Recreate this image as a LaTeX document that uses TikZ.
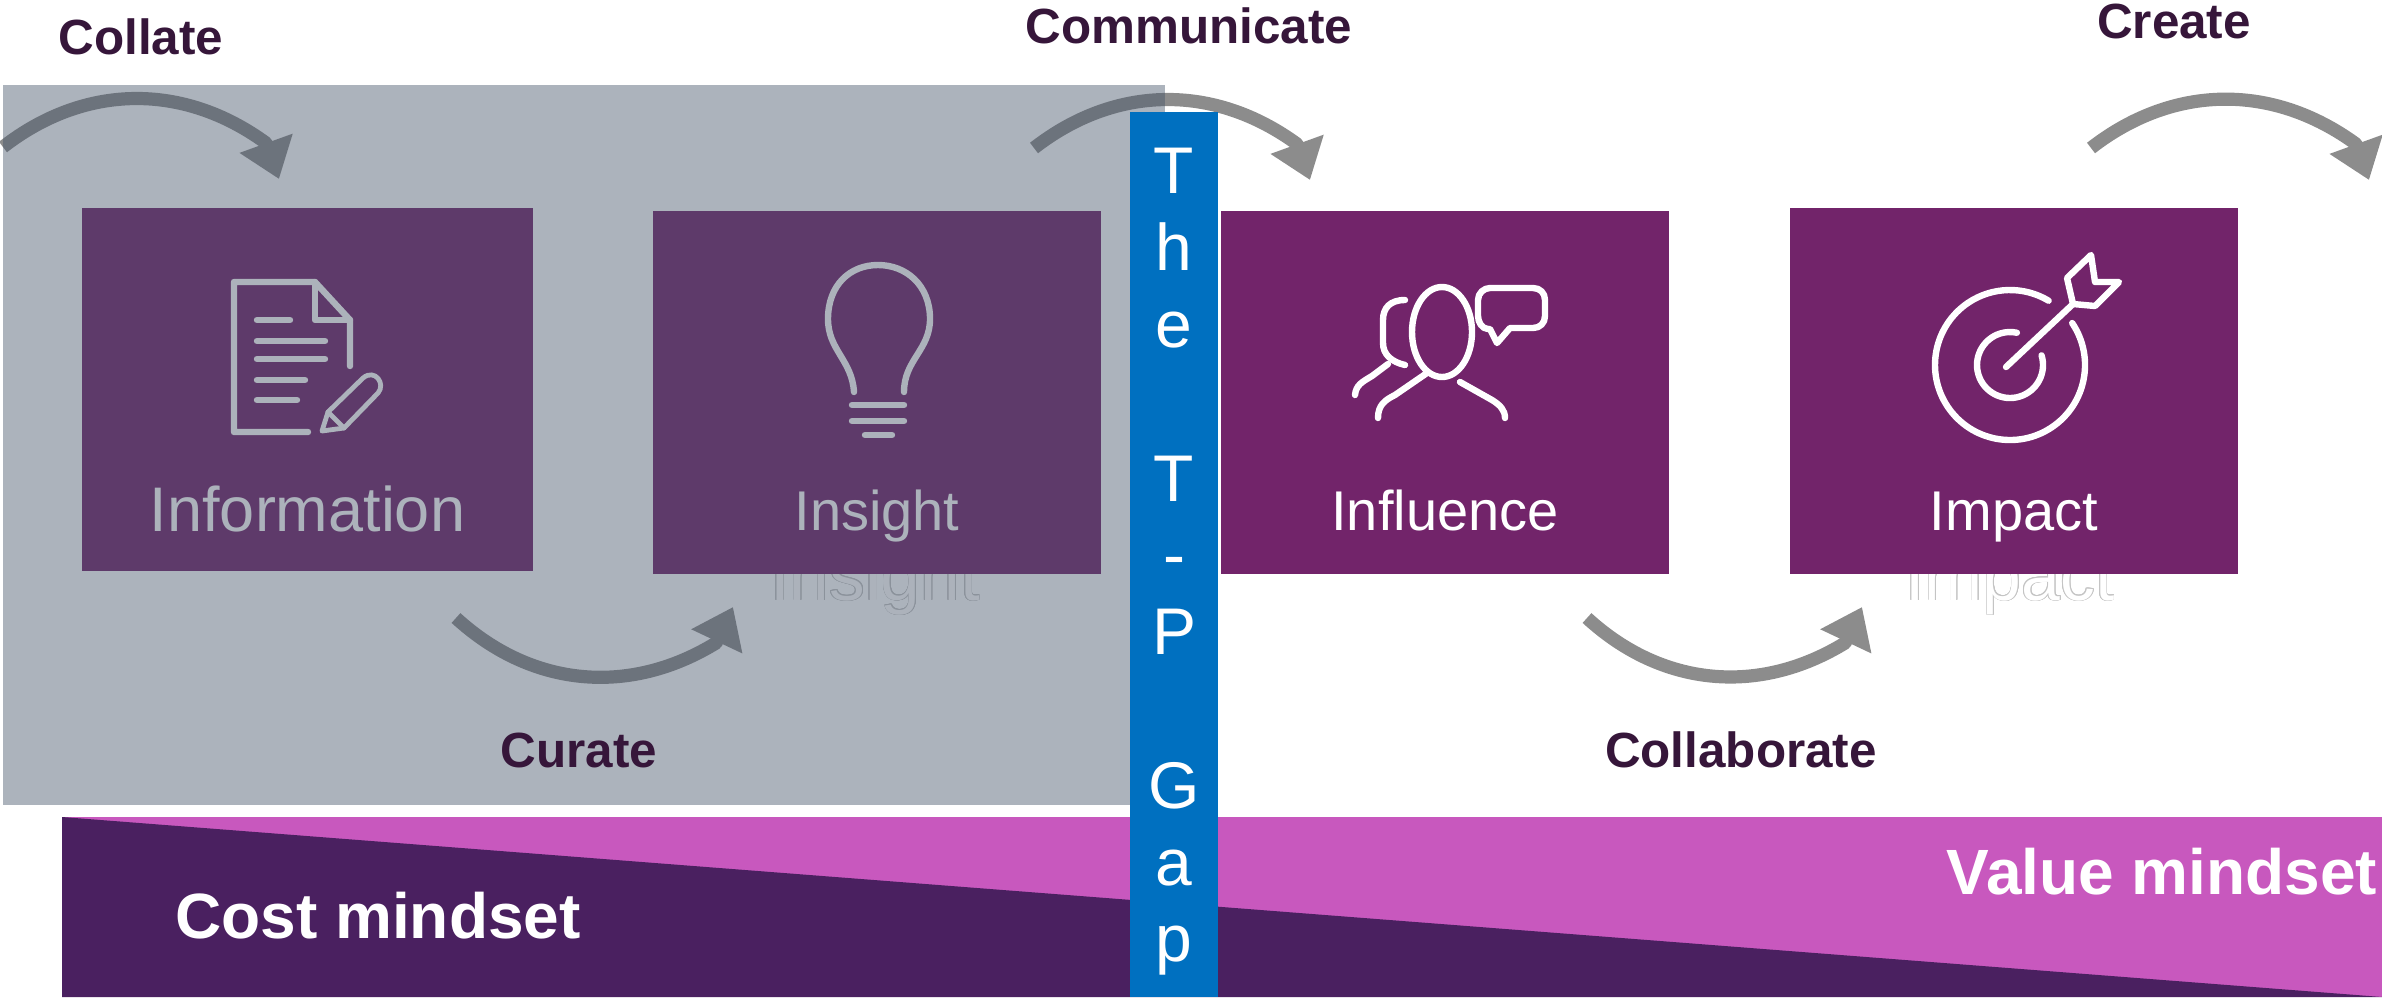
\documentclass[tikz,border=0pt]{standalone}
\usepackage{fontspec}
\setmainfont{Liberation Sans}
\usepackage{contour}
\usetikzlibrary{%
  arrows.meta,%
  positioning% wg. " of "
}
\contourlength{.4pt}
\definecolor{tileplum}{HTML}{72246A}
\definecolor{veilslate}{HTML}{47566A}
\definecolor{inkplum}{HTML}{36163A}
\definecolor{sweepgray}{HTML}{8C8C8C}
\definecolor{gapblue}{HTML}{0070C0}
\definecolor{valuepink}{HTML}{C858BE}
\definecolor{costplum}{HTML}{4A2060}
\definecolor{ghostgray}{HTML}{C4C4C4}
\tikzset{
  tile/.style={fill=tileplum,minimum width=224pt,minimum height=181.5pt,inner sep=0pt,outer sep=0pt},
  tiletext/.style={text=white,anchor=base,inner sep=0pt,font=\fontsize{28}{32}\selectfont},
  verb/.style={text=inkplum,inner sep=0pt,font=\bfseries\fontsize{24.7}{28}\selectfont},
  mindset/.style={text=white,inner sep=0pt,font=\bfseries\fontsize{32}{36}\selectfont},
  ghost/.style={anchor=base,inner sep=0pt,text=white},
  sweep/.style={->,color=sweepgray,line width=6.6pt,line join=round,>={Triangle[length=19pt,width=27pt]}},
  icon/.style={draw=white,line width=3.2pt,line cap=round,line join=round}
}

\begin{document}
\begin{tikzpicture}[x=.5pt,y=-.5pt,node distance=60pt]
    \useasboundingbox (0,0) rectangle (2382,997);

    %curved arrow ends
    \coordinate (c_1a) at (3,147);
    \coordinate (c_1m) at (266,143);
    \coordinate (c_1b) at (279,179);
    \coordinate (c_2a) at (1034,148);
    \coordinate (c_2m) at (1297,144);
    \coordinate (c_2b) at (1310,180);
    \coordinate (c_3a) at (2091,148);
    \coordinate (c_3m) at (2356,144);
    \coordinate (c_3b) at (2369,180);
    \coordinate (c_4a) at (456,618);
    \coordinate (c_4m) at (716,643);
    \coordinate (c_4b) at (733,607);
    \coordinate (c_5a) at (1587,618);
    \coordinate (c_5m) at (1845,643);
    \coordinate (c_5b) at (1862,607);

    %outlined words behind the tiles
    \node[ghost,font=\fontsize{35.6}{40}\selectfont] (g_insight) at (875,600) {\contour{ghostgray}{Insight}};
    \node[ghost,font=\fontsize{34.8}{40}\selectfont] (g_impact) at (2010,600) {\contour{ghostgray}{Impact}};

    %tiles row
    \node[tile,minimum width=225.5pt] (t_info) at (307.5,389.5) {};
    \node[tile] (t_insight) [right =of t_info,yshift=-1.5pt] {};
    \node[tile] (t_influence) [right =of t_insight] {};
    \node[tile,minimum height=183pt] (t_impact) [right =of t_influence,xshift=.5pt,yshift=.75pt] {};

    %tile words
    \node[tiletext,font=\fontsize{31.5}{36}\selectfont] (l_info) at ([yshift=20pt]t_info.south) {Information};
    \node[tiletext] (l_insight) at ([yshift=22pt]t_insight.south) {Insight};
    \node[tiletext] (l_influence) at ([yshift=22pt]t_influence.south) {Influence};
    \node[tiletext] (l_impact) at ([yshift=22pt]t_impact.south) {Impact};

    %document icon
    \draw[icon] (308,432) -- (234,432) -- (234,282) -- (315,282) -- (350,320) -- (350,366);
    \draw[icon] (315,282) -- (315,320) -- (350,320);
    \foreach \y/\xe in {320/290,341/325,359/325,380/305,400/297}
      \draw[icon] (257,\y) -- (\xe,\y);
    \draw[icon,line width=2.4pt] (322,431) -- (328,412) -- (363,378) .. controls (375,368) and (386,384) .. (378,393) -- (344,428) -- cycle;
    \draw[icon,line width=2.4pt] (328,412) -- (344,428);

    %bulb icon
    \draw[icon] (854,392) .. controls (852,360) and (828,350) .. (828,319) .. controls (828,285) and (850,265) .. (878,265) .. controls (906,265) and (930,285) .. (930,319) .. controls (930,350) and (904,360) .. (904,392);
    \draw[icon] (852,405) -- (904,405);
    \draw[icon] (852,421) -- (904,421);
    \draw[icon] (865,435) -- (892,435);

    %people icon
    \draw[icon] (1442,332) ellipse [x radius=15pt,y radius=22.5pt];
    \draw[icon] (1405,300) .. controls (1390,300) and (1383,308) .. (1383,320) -- (1383,343) .. controls (1383,355) and (1392,362) .. (1405,365);
    \draw[icon] (1355,395) .. controls (1356,385) and (1362,382) .. (1372,376) -- (1388,364);
    \draw[icon] (1378,418) .. controls (1378,405) and (1385,400) .. (1395,395) -- (1427,373);
    \draw[icon] (1460,382) -- (1492,400) .. controls (1500,405) and (1505,410) .. (1505,418);
    \draw[icon] (1490,329) -- (1488,329) .. controls (1482,329) and (1478,322) .. (1478,316) -- (1478,300) .. controls (1478,293) and (1484,288) .. (1490,288) -- (1533,288) .. controls (1540,288) and (1545,293) .. (1545,300) -- (1545,316) .. controls (1545,323) and (1540,328) .. (1533,328) -- (1510,328) -- (1497,343) -- cycle;

    %target icon
    \draw[icon] (2010,365) ++(34:37.5pt) arc [start angle=34,end angle=-301,radius=37.5pt];
    \draw[icon] (2010,365) ++(17:16.5pt) arc [start angle=17,end angle=-282,radius=16.5pt];
    \draw[icon] (2006,367) -- (2073,304);
    \draw[icon] (2073,304) -- (2067,278) -- (2091,255) -- (2095,282) -- (2119,282) -- (2095,306) -- cycle;

    %curved arrows
    \draw[sweep] (c_1a) to[bend left=37] (c_1m) -- (c_1b);
    \draw[sweep] (c_2a) to[bend left=37] (c_2m) -- (c_2b);
    \draw[sweep] (c_3a) to[bend left=37] (c_3m) -- (c_3b);
    \draw[sweep] (c_4a) to[bend right=37] (c_4m) -- (c_4b);
    \draw[sweep] (c_5a) to[bend right=37] (c_5m) -- (c_5b);

    %veil over the left half
    \fill[veilslate,fill opacity=.45] (3,85) rectangle (1165,805);

    %verbs
    \node[verb] (v_collate) at (141,37) {Collate};
    \node[verb] (v_communicate) at (1189,26) {Communicate};
    \node[verb] (v_create) at (2174,21) {Create};
    \node[verb] (v_curate) at (579,750) {Curate};
    \node[verb] (v_collaborate) at (1741,750) {Collaborate};

    %mindset band
    \fill[valuepink] (62,817) rectangle (2382,997);
    \fill[costplum] (62,817) -- (2382,997) -- (62,997) -- cycle;
    \node[mindset] (m_cost) at (378,916) {Cost mindset};
    \node[mindset] (m_value) at (2162,872) {Value mindset};

    %gap bar
    \node[fill=gapblue,minimum width=44pt,minimum height=442.5pt,inner sep=0pt] (b_gap) at (1174,554.5) {};
    \node[text=white,inner sep=0pt,align=center,font=\fontsize{33}{38.4}\selectfont] (l_gap) at (1174,562) {T\\h\\e\\ \\T\\-\\P\\ \\G\\a\\p};
\end{tikzpicture}
\end{document}
